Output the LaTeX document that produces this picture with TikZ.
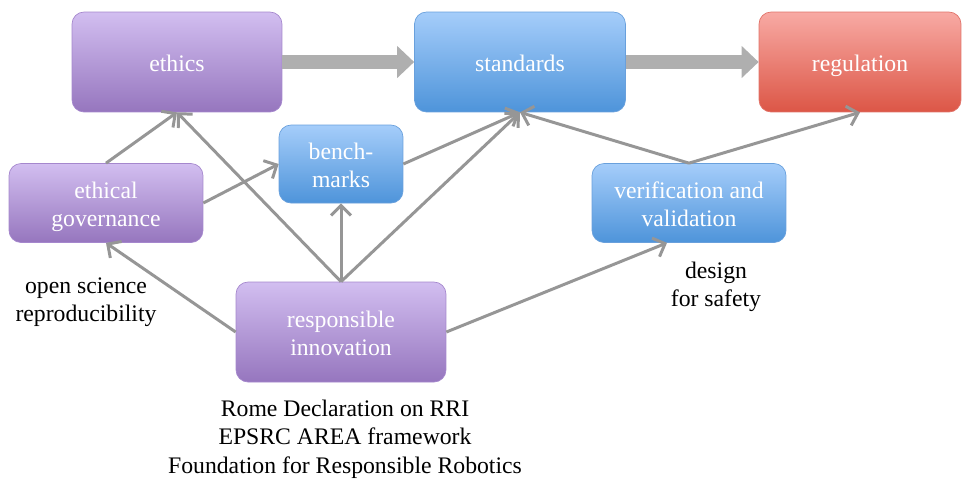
\documentclass[tikz,border=0pt]{standalone}
\usepackage{fontspec}
\setmainfont{Liberation Serif}
\usetikzlibrary{arrows.meta}
\definecolor{lilactop}{RGB}{210,190,240}
\definecolor{lilacbot}{RGB}{150,118,190}
\definecolor{lilacedge}{RGB}{165,135,205}
\definecolor{skytop}{RGB}{165,205,250}
\definecolor{skybot}{RGB}{78,148,218}
\definecolor{skyedge}{RGB}{105,160,220}
\definecolor{rosetop}{RGB}{248,170,164}
\definecolor{rosebot}{RGB}{220,86,70}
\definecolor{roseedge}{RGB}{225,115,105}
\definecolor{linkgray}{RGB}{150,150,150}
\definecolor{fatgray}{RGB}{175,175,175}
\newcommand{\boxtext}[1]{\raisebox{-0.07cm}[\height][\depth]{\begin{tabular}{@{}c@{}}#1\end{tabular}}}
\tikzset{
  box/.style={rounded corners=0.24cm, draw=#1edge, top color=#1top, bottom color=#1bot,
    text=white, align=center, inner sep=0pt, font=\fontsize{13.5}{16}\selectfont},
  link/.style={line width=1.7pt, draw=linkgray, -{Straight Barb[length=0.2cm,width=0.4cm]}},
  bigarrow/.style={line width=0.28cm, draw=fatgray, -{Triangle[length=0.34cm,width=0.62cm]}},
  note/.style={align=center, font=\fontsize{13.5}{16.2}\selectfont}
}

\begin{document}
\begin{tikzpicture}[x=0.02cm,y=-0.02cm]
  \useasboundingbox (0,0) rectangle (962,478);
  \node[box=lilac, minimum width=4.2cm, minimum height=2cm] (ethics) at (177,62) {\boxtext{ethics}};
  \node[box=sky, minimum width=4.22cm, minimum height=2cm] (standards) at (520,62) {\boxtext{standards}};
  \node[box=rose, minimum width=4.04cm, minimum height=2cm] (regulation) at (860,62) {\boxtext{regulation}};
  \node[box=lilac, minimum width=3.88cm, minimum height=1.58cm] (governance) at (106,203) {\boxtext{ethical\\governance}};
  \node[box=sky, minimum width=2.48cm, minimum height=1.56cm] (benchmarks) at (341,164) {\boxtext{bench-\\marks}};
  \node[box=sky, minimum width=3.88cm, minimum height=1.58cm] (vandv) at (689,203) {\boxtext{verification and\\validation}};
  \node[box=lilac, minimum width=4.2cm, minimum height=2cm] (innovation) at (341,332) {\boxtext{responsible\\innovation}};
  \node[note] (openscience) at (86,302) {open science\\reproducibility};
  \node[note] (safety) at (716,287) {design\\for safety};
  \node[note] (rri) at (345,439) {Rome Declaration on RRI\\EPSRC AREA framework\\Foundation for Responsible Robotics};

  \draw[bigarrow] (ethics.east) -- (standards.west);
  \draw[bigarrow] (standards.east) -- (regulation.west);
  \draw[link] (governance.north) -- (ethics.south);
  \draw[link] (innovation.north) -- (ethics.south);
  \draw[link] (innovation.north) -- (benchmarks.south);
  \draw[link] (innovation.north) -- (standards.south);
  \draw[link] (governance.east) -- (benchmarks.west);
  \draw[link] (benchmarks.east) -- (standards.south);
  \draw[link] (vandv.north) -- (standards.south);
  \draw[link] (vandv.north) -- (regulation.south);
  \draw[link] (innovation.west) -- (governance.south);
  \draw[link] (innovation.east) -- ([xshift=-0.44cm]vandv.south);
\end{tikzpicture}
\end{document}
